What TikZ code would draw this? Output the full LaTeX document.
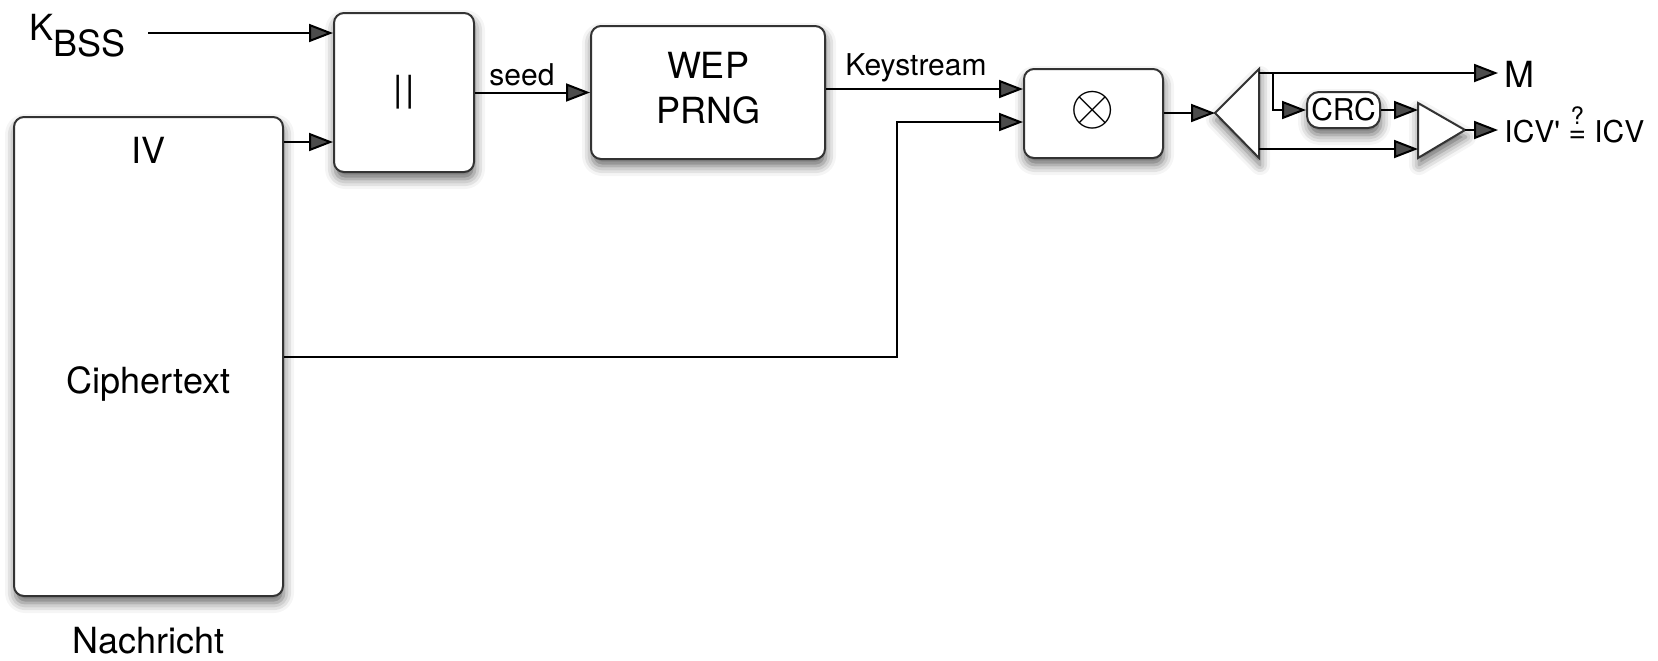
\documentclass[tikz,border=0pt]{standalone}
\usepackage{amsmath}
\usepackage{graphicx}
\usepackage{fontspec}
\setmainfont{TeX Gyre Heros}
\usetikzlibrary{arrows.meta,shadows.blur,calc}
\newcommand{\mainsize}{\fontsize{18}{22.5}\selectfont}
\newcommand{\lblsize}{\fontsize{15}{18}\selectfont}
\newcommand{\qeq}{\ensuremath{\mathrel{\overset{\text{\fontsize{12}{12}\selectfont ?}}{\text{\lblsize =}}}}}
\begin{document}
\begin{tikzpicture}[x=0.5pt,y=-0.5pt,
  shade/.style={blur shadow={shadow xshift=0.5pt, shadow yshift=-3.5pt, shadow blur radius=5pt, shadow opacity=60}},
  box/.style={draw=black!80, line width=1pt, fill=white, rounded corners=5pt, shade, font=\mainsize},
  tri/.style={draw=black!80, line width=1pt, fill=white, line join=miter, shade},
  txt/.style={inner sep=0pt, font=\mainsize},
  lbl/.style={inner sep=0pt, font=\lblsize},
  arr/.style={line width=1pt, -{Triangle[length=12pt,width=9pt]}},
  wire/.style={line width=1pt}]
\useasboundingbox (0,0) rectangle (1658,660);

% boxes
\node[box, minimum width=70pt, minimum height=79.5pt] (ii) at (404,92.5) {|\kern1.3pt|};
\node[box, minimum width=134.5pt, minimum height=239.5pt] (msg) at (148.5,356.5) {};
\node[box, minimum width=117pt, minimum height=66.5pt, align=center] (wep) at (708,92.5) {WEP\\PRNG\rule[-4.5pt]{0pt}{0pt}};
\node[box, minimum width=69.5pt, minimum height=44.5pt] (xor) at (1093.5,113.5) {};
\node[inner sep=0pt, font=\mainsize] (xsym) at (1093,110) {\scalebox{1.65}{$\otimes$}};
\node[box, rounded corners=6pt, minimum width=36.5pt, minimum height=18pt, inner sep=0pt, font=\lblsize] (crc) at (1343.5,110) {CRC};

% texts
\node[txt, anchor=base west] (kbss) at (29,40) {K\raisebox{-8pt}{BSS}};
\node[txt, anchor=base] (iv) at (148.5,163) {IV};
\node[txt, anchor=base] (ct) at (148.5,393) {Ciphertext};
\node[txt, anchor=base] (nachr) at (148.5,653) {Nachricht};
\node[lbl, anchor=base] (seed) at (522,85) {seed};
\node[lbl, anchor=base] (ks) at (916,75) {Keystream};
\node[txt, anchor=base west, inner xsep=3.25pt] (mout) at (1498,87) {M};
\node[lbl, anchor=base west, inner xsep=3pt] (icv) at (1498,142) {{\addfontfeatures{Ligatures=TeXOff}ICV'} \qeq{} ICV};

% triangles
\coordinate (sptip) at (1215,113);
\coordinate (sptop) at (1259,69);
\coordinate (spbot) at (1259,158);
\draw[tri] (sptip) -- (sptop) -- (spbot) -- cycle;
\coordinate (cmptop) at (1418,103);
\coordinate (cmpbot) at (1418,158);
\coordinate (cmptip) at (1465,130);
\draw[tri] (cmptop) -- (cmptip) -- (cmpbot) -- cycle;

% connectors
\coordinate (kstart) at (148,33);
\draw[arr] (kstart) -- (kstart -| ii.west);
\draw[arr] (msg.east |- 0,142) -- (ii.west |- 0,142);
\draw[arr] (ii) -- (wep);
\draw[arr] (wep.east |- 0,89) -- (xor.west |- 0,89);
\coordinate (bend) at (897,122);
\draw[arr] (msg.east |- 0,357) -| (bend) -- (xor.west |- bend);
\draw[arr] (xor.east |- sptip) -- (sptip);
\coordinate (mstart) at (1259,73);
\draw[arr] (mstart) -- (mstart -| mout.west);
\coordinate (branch) at (1273,73);
\draw[arr] (branch) |- (crc.west);
\draw[arr] (crc.east) -- (crc.east -| cmptop);
\coordinate (bstart) at (1259,149);
\draw[arr] (bstart) -- (bstart -| cmptop);
\draw[arr] (cmptip) -- (cmptip -| icv.west);
\end{tikzpicture}
\end{document}
